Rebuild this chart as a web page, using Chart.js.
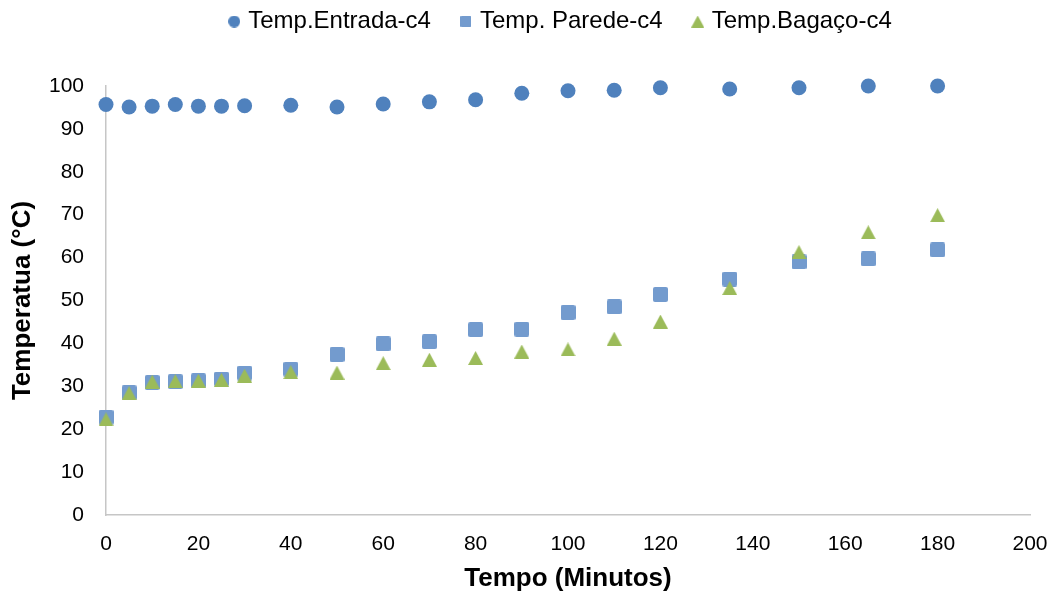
<!DOCTYPE html>
<html>
<head>
<meta charset="utf-8">
<script src="https://cdn.jsdelivr.net/npm/chart.js@4/dist/chart.umd.min.js"></script>
<style>
  html, body { margin: 0; padding: 0; background: #ffffff; }
  #c { display: block; }
</style>
</head>
<body>
<canvas id="c" width="1056" height="596"></canvas>
<script>
// Tempo (minutos) e temperaturas medidas (°C)
const tempo   = [0, 5, 10, 15, 20, 25, 30, 40, 50, 60, 70, 80, 90, 100, 110, 120, 135, 150, 165, 180];
const entrada = [95.7, 95.1, 95.3, 95.7, 95.3, 95.3, 95.4, 95.5, 95.1, 95.8, 96.3, 96.8, 98.3, 98.9, 99.0, 99.6, 99.3, 99.6, 100.0, 100.0];
const parede  = [22.8, 28.5, 30.9, 31.1, 31.3, 31.7, 33.1, 34.0, 37.4, 39.9, 40.4, 43.2, 43.3, 47.2, 48.5, 51.4, 55.0, 59.0, 59.7, 61.8];
const bagaco  = [22.3, 28.4, 31.1, 31.2, 31.3, 31.5, 32.5, 33.3, 33.2, 35.4, 36.2, 36.6, 38.1, 38.6, 41.1, 45.1, 52.9, 61.3, 65.9, 69.9];

const seriesNames = ['Temp.Entrada-c4', 'Temp. Parede-c4', 'Temp.Bagaço-c4'];
const xTicks = { min: 0, max: 200, step: 20 };
const yTicks = { min: 0, max: 100, step: 10 };

const COLOR_ENTRADA = '#4F81BD';
const COLOR_PAREDE  = '#739BCE';
const COLOR_BAGACO  = '#9BBB59';
const FONT = "'Liberation Sans', Arial, Helvetica, sans-serif";

// Marker sprites (drawn centred on the point by Chart.js)
function circleSprite(d, color) {
  const c = document.createElement('canvas');
  c.width = d; c.height = d;
  const g = c.getContext('2d');
  g.fillStyle = color;
  g.beginPath(); g.arc(d / 2, d / 2, d / 2, 0, Math.PI * 2); g.fill();
  return c;
}
function squareSprite(s, r, color) {
  const c = document.createElement('canvas');
  c.width = s; c.height = s;
  const g = c.getContext('2d');
  g.fillStyle = color;
  g.beginPath();
  g.moveTo(r, 0); g.lineTo(s - r, 0); g.quadraticCurveTo(s, 0, s, r);
  g.lineTo(s, s - r); g.quadraticCurveTo(s, s, s - r, s);
  g.lineTo(r, s); g.quadraticCurveTo(0, s, 0, s - r);
  g.lineTo(0, r); g.quadraticCurveTo(0, 0, r, 0);
  g.closePath(); g.fill();
  return c;
}
function triangleSprite(w, h, color) {
  const c = document.createElement('canvas');
  c.width = w; c.height = h;
  const g = c.getContext('2d');
  g.fillStyle = color;
  g.beginPath(); g.moveTo(w / 2, 0); g.lineTo(w, h); g.lineTo(0, h); g.closePath(); g.fill();
  return c;
}

const markParede = squareSprite(15, 2, COLOR_PAREDE);
const markBagaco = triangleSprite(15, 14, COLOR_BAGACO);
const legendMarks = [
  circleSprite(12, COLOR_ENTRADA),
  squareSprite(11, 1, COLOR_PAREDE),
  triangleSprite(13, 12, COLOR_BAGACO)
];

const toPoints = ys => tempo.map((t, i) => ({ x: t, y: ys[i] }));

// Legend: fixed band height and placement of the single row
const LEGEND_HEIGHT = 86;
const LEGEND_SHIFT_X = 47;
const LEGEND_SHIFT_Y = -23.5;
const legendBand = {
  id: 'legendBand',
  beforeInit(chart) {
    const lg = chart.legend;
    const fit = lg.fit;
    lg.fit = function () { fit.call(this); this.height = LEGEND_HEIGHT; };
  },
  afterLayout(chart) {
    const lg = chart.legend;
    lg.left += LEGEND_SHIFT_X; lg.right += LEGEND_SHIFT_X;
    lg.top += LEGEND_SHIFT_Y; lg.bottom += LEGEND_SHIFT_Y;
  }
};

Chart.defaults.font.family = FONT;
Chart.defaults.color = '#000000';

new Chart(document.getElementById('c'), {
  type: 'scatter',
  data: {
    datasets: [
      {
        label: seriesNames[0], data: toPoints(entrada),
        pointStyle: 'circle', pointRadius: 7.5, pointBorderWidth: 0,
        backgroundColor: COLOR_ENTRADA, borderColor: COLOR_ENTRADA, order: 2, clip: false
      },
      {
        label: seriesNames[1], data: toPoints(parede),
        pointStyle: markParede, pointRadius: 7.5, pointBorderWidth: 0,
        backgroundColor: COLOR_PAREDE, borderColor: COLOR_PAREDE, order: 1, clip: false
      },
      {
        label: seriesNames[2], data: toPoints(bagaco),
        pointStyle: markBagaco, pointRadius: 7.5, pointBorderWidth: 0,
        backgroundColor: COLOR_BAGACO, borderColor: COLOR_BAGACO, order: 0, clip: false
      }
    ]
  },
  options: {
    responsive: false,
    animation: false,
    events: [],
    layout: { padding: { left: 0, right: 26, top: 0, bottom: 0 } },
    plugins: {
      tooltip: { enabled: false },
      legend: {
        display: true,
        position: 'top',
        align: 'center',
        labels: {
          usePointStyle: true,
          boxWidth: 4,
          boxHeight: 12,
          padding: 33,
          color: '#000000',
          font: { size: 24, family: FONT },
          sort: (a, b) => a.datasetIndex - b.datasetIndex,
          generateLabels(chart) {
            const items = Chart.defaults.plugins.legend.labels.generateLabels(chart);
            items.forEach(it => { it.pointStyle = legendMarks[it.datasetIndex]; });
            return items;
          }
        }
      }
    },
    scales: {
      x: {
        type: 'linear',
        min: xTicks.min, max: xTicks.max,
        ticks: { stepSize: xTicks.step, color: '#000000', font: { size: 21 }, padding: 17 },
        grid: { display: false, drawTicks: false },
        border: { display: true, color: '#C6C6C6', width: 1.5 },
        title: {
          display: true, text: 'Tempo (Minutos)', color: '#000000',
          font: { size: 26, weight: 'bold' }, padding: { top: 4, bottom: 2 }
        },
        afterFit(scale) { scale.height = 81; scale.paddingLeft = 0; scale.paddingRight = 0; }
      },
      y: {
        type: 'linear',
        min: yTicks.min, max: yTicks.max,
        ticks: { stepSize: yTicks.step, color: '#000000', font: { size: 21 }, padding: 22 },
        grid: { display: false, drawTicks: false },
        border: { display: true, color: '#C6C6C6', width: 1.5 },
        title: {
          display: true, text: 'Temperatua (°C)', color: '#000000',
          font: { size: 26, weight: 'bold' }, padding: { top: 7, bottom: 4 }
        },
        afterFit(scale) { scale.width = 106; }
      }
    }
  },
  plugins: [legendBand]
});
</script>
</body>
</html>
